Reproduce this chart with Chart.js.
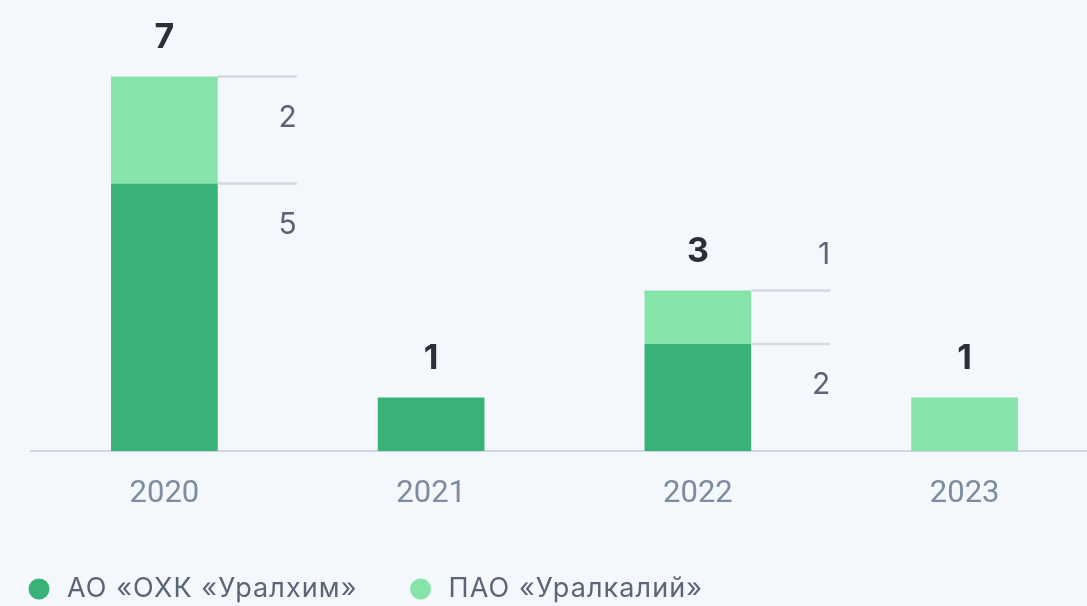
<!DOCTYPE html>
<html>
<head>
<meta charset="utf-8">
<script src="https://cdn.jsdelivr.net/npm/chart.js@4.4.1/dist/chart.umd.min.js"></script>
<style>
html, body { margin: 0; padding: 0; background: #f4f7fb; overflow: hidden; }
#wrap { width: 1098px; height: 606px; }
</style>
</head>
<body>
<div id="wrap"><canvas id="chart"></canvas></div>
<script>
var years = ["2020", "2021", "2022", "2023"];
var uralchem = [5, 1, 2, 0];
var uralkali = [2, 0, 1, 1];
var seriesNames = ["АО «ОХК «Уралхим»", "ПАО «Уралкалий»"];
var seriesColors = ["#38b277", "#86e3aa"];

var FONT = "Inter, Roboto, 'Noto Sans', sans-serif";

// totals above bars, leader lines + segment values on the right
var labelPlugin = {
	id: 'stackLabels',
	afterDatasetsDraw: function(chart) {
		var ctx = chart.ctx;
		var m0 = chart.getDatasetMeta(0);
		var m1 = chart.getDatasetMeta(1);
		ctx.save();
		for (var i = 0; i < years.length; i++) {
			var a = uralchem[i], b = uralkali[i];
			var top = b > 0 ? m1.data[i] : m0.data[i];
			// total
			ctx.fillStyle = "#2b2f38";
			ctx.font = "bold 34px " + FONT;
			ctx.textAlign = "center";
			ctx.textBaseline = "middle";
			ctx.fillText(String(a + b), top.x, top.y - 39);
			if (a > 0 && b > 0) {
				var segs = [m0.data[i], m1.data[i]];
				var vals = [a, b];
				var x0 = top.x + top.width / 2;
				var x1 = x0 + 79;
				for (var k = 0; k < 2; k++) {
					var el = segs[k];
					ctx.strokeStyle = "#d6dae1";
					ctx.lineWidth = 2.5;
					ctx.beginPath();
					ctx.moveTo(x0, el.y);
					ctx.lineTo(x1, el.y);
					ctx.stroke();
					ctx.fillStyle = "#5b6577";
					ctx.font = "30px " + FONT;
					ctx.textAlign = "right";
					var h = el.base - el.y;
					var ly = h < 60 ? el.y - 36 : el.y + 41;
					ctx.fillText(String(vals[k]), x1, ly);
				}
			}
		}
		// legend
		var lx = 39, ly2 = 589;
		ctx.font = "27px " + FONT;
		ctx.letterSpacing = "1.1px";
		ctx.textAlign = "left";
		ctx.textBaseline = "middle";
		for (var j = 0; j < seriesNames.length; j++) {
			ctx.fillStyle = seriesColors[j];
			ctx.beginPath();
			ctx.arc(lx, ly2, 10.5, 0, Math.PI * 2);
			ctx.fill();
			ctx.fillStyle = "#5b6577";
			ctx.fillText(seriesNames[j], lx + 28, ly2);
			lx += 28 + ctx.measureText(seriesNames[j]).width + 63;
		}
		ctx.letterSpacing = "0px";
		ctx.restore();
	}
};

new Chart(document.getElementById('chart').getContext('2d'), {
	type: 'bar',
	data: {
		labels: years,
		datasets: [
			{ label: seriesNames[0], data: uralchem, backgroundColor: seriesColors[0] },
			{ label: seriesNames[1], data: uralkali, backgroundColor: seriesColors[1] }
		]
	},
	options: {
		responsive: true,
		maintainAspectRatio: false,
		animation: false,
		layout: { padding: { left: 31, right: 0, top: 23, bottom: 67.8 } },
		datasets: { bar: { categoryPercentage: 1, barPercentage: 0.4, borderWidth: 0 } },
		plugins: { legend: { display: false }, tooltip: { enabled: false } },
		scales: {
			x: {
				stacked: true,
				grid: { display: false, drawTicks: false },
				border: { display: true, color: "#cfd7e3", width: 2 },
				ticks: { color: "#7d8ca3", padding: 25, font: { family: "Roboto, " + FONT, size: 31 } }
			},
			y: {
				stacked: true,
				display: false,
				min: 0,
				max: 8
			}
		}
	},
	plugins: [labelPlugin]
});
</script>
</body>
</html>
